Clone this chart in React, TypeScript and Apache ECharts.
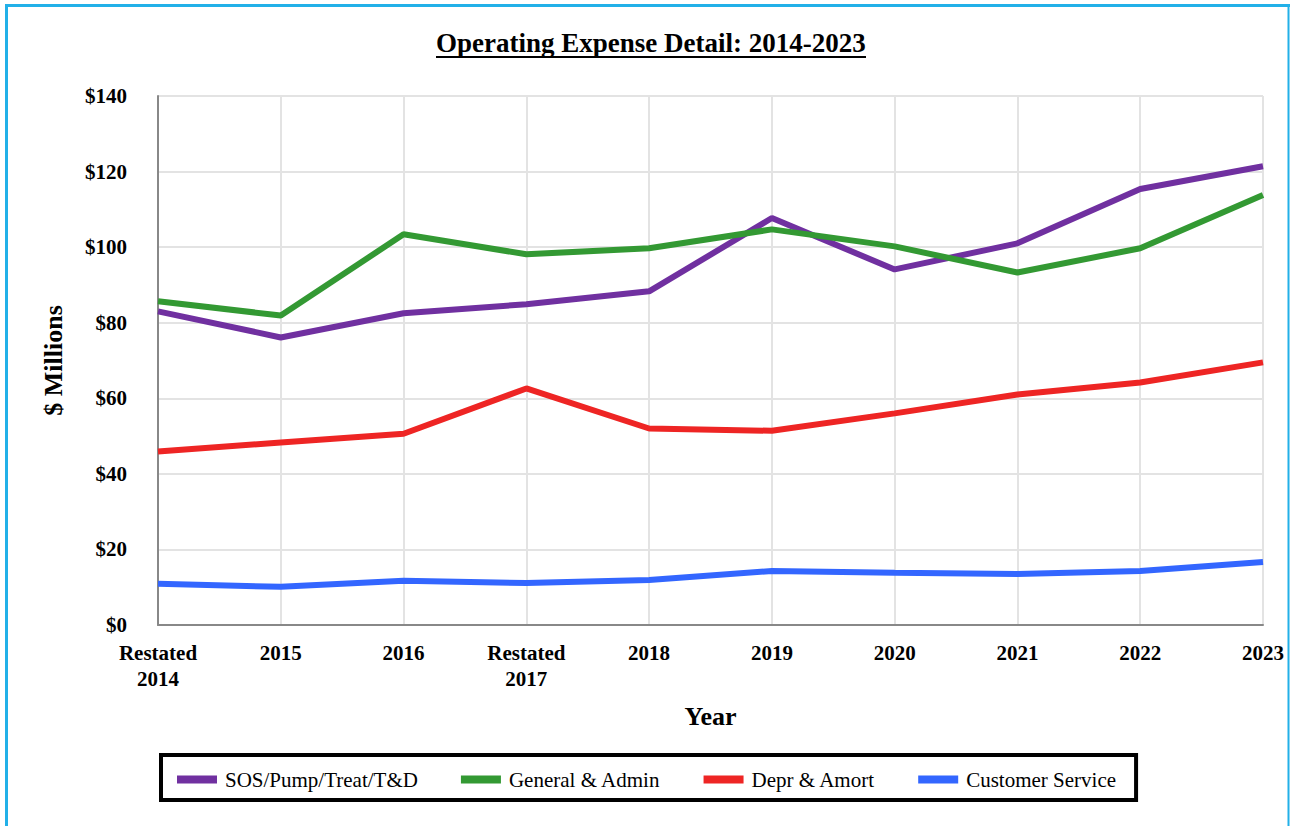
import React, { useEffect, useRef } from "react";
import * as echarts from "echarts";

const categories = ["Restated\n2014", "2015", "2016", "Restated\n2017", "2018", "2019", "2020", "2021", "2022", "2023"];
const sosPumpTreat = [83.0, 76.1, 82.5, 84.9, 88.3, 107.7, 94.1, 101.0, 115.4, 121.4];
const generalAdmin = [85.7, 81.9, 103.4, 98.1, 99.7, 104.7, 100.2, 93.3, 99.7, 113.8];
const deprAmort = [45.9, 48.3, 50.6, 62.6, 52.0, 51.4, 56.0, 61.0, 64.2, 69.5];
const customerService = [10.9, 10.1, 11.7, 11.1, 11.9, 14.3, 13.8, 13.5, 14.3, 16.7];
const seriesNames = ["SOS/Pump/Treat/T&D", "General & Admin", "Depr & Amort", "Customer Service"];
const seriesColors = ["#7030A0", "#339933", "#EE2524", "#3366FF"];

const FONT = "'Liberation Serif', 'Times New Roman', serif";

export default function App() {
  const ref = useRef<HTMLDivElement>(null);
  useEffect(() => {
    if (!ref.current) return;
    const chart = echarts.init(ref.current, null, { renderer: "svg" });
    const data = [sosPumpTreat, generalAdmin, deprAmort, customerService];
    chart.setOption({
      animation: false,
      backgroundColor: "#ffffff",
      title: {
        text: "Operating Expense Detail: 2014-2023",
        left: 436,
        top: 29,
        padding: 0,
        textStyle: { fontFamily: FONT, fontWeight: "bold", fontSize: 27, color: "#000" },
      },
      graphic: [
        { type: "line", shape: { x1: 436, y1: 57, x2: 866, y2: 57 }, style: { stroke: "#000", lineWidth: 2 } },
        { type: "line", shape: { x1: 5, y1: 5.5, x2: 1290, y2: 5.5 }, style: { stroke: "#22B0E8", lineWidth: 3 } },
        { type: "line", shape: { x1: 6.5, y1: 4, x2: 6.5, y2: 826 }, style: { stroke: "#22B0E8", lineWidth: 3 } },
        { type: "line", shape: { x1: 1288.5, y1: 4, x2: 1288.5, y2: 826 }, style: { stroke: "#22B0E8", lineWidth: 2 } },
      ],
      legend: {
        data: seriesNames,
        left: 161,
        top: 755,
        padding: [14, 20, 10, 16],
        borderColor: "#000",
        borderWidth: 4,
        itemWidth: 40,
        itemHeight: 8,
        itemGap: 43,
        icon: "rect",
        textStyle: { fontFamily: FONT, fontSize: 21, color: "#000", padding: [0, 0, 0, 3] },
      },
      grid: { left: 158, right: 27, top: 96, bottom: 201, containLabel: false },
      xAxis: {
        type: "category",
        data: categories,
        boundaryGap: false,
        name: "Year",
        nameLocation: "middle",
        nameGap: 78,
        nameTextStyle: { fontFamily: FONT, fontWeight: "bold", fontSize: 26, color: "#000" },
        axisLine: { lineStyle: { color: "#888", width: 2 } },
        axisTick: { show: false },
        axisLabel: {
          fontFamily: FONT,
          fontWeight: "bold",
          fontSize: 21,
          color: "#000",
          lineHeight: 26,
          margin: 15,
          interval: 0,
        },
        splitLine: { show: true, lineStyle: { color: "#e3e3e3", width: 2 } },
      },
      yAxis: {
        type: "value",
        min: 0,
        max: 140,
        interval: 20,
        name: "$ Millions",
        nameLocation: "middle",
        nameGap: 92,
        nameTextStyle: { fontFamily: FONT, fontWeight: "bold", fontSize: 26, color: "#000" },
        axisLine: { show: true, lineStyle: { color: "#888", width: 2 } },
        axisTick: { show: false },
        axisLabel: {
          fontFamily: FONT,
          fontWeight: "bold",
          fontSize: 21,
          color: "#000",
          margin: 31,
          formatter: (v: number) => "$" + v,
        },
        splitLine: { show: true, lineStyle: { color: "#e3e3e3", width: 2 } },
      },
      series: seriesNames.map((name, i) => ({
        name,
        type: "line",
        data: data[i],
        symbol: "none",
        color: seriesColors[i],
        lineStyle: { width: 6, color: seriesColors[i] },
      })),
    });
    return () => chart.dispose();
  }, []);
  return (
    <div
      ref={ref}
      style={{ position: "absolute", left: 0, top: 0, width: 1290, height: 826 }}
    />
  );
}
